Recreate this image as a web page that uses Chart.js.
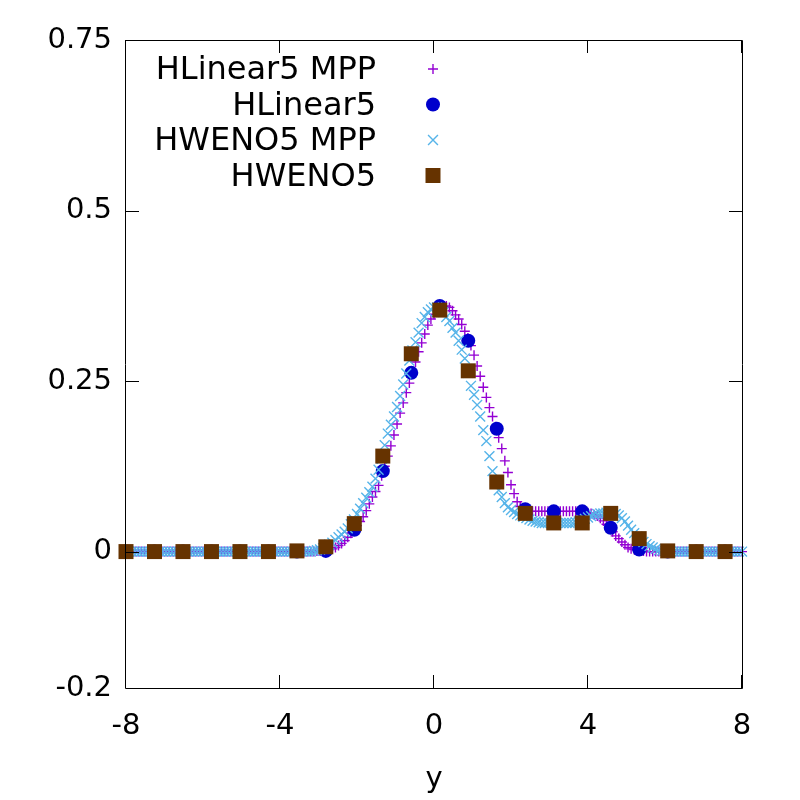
<!DOCTYPE html>
<html>
<head>
<meta charset="utf-8">
<script src="https://cdn.jsdelivr.net/npm/chart.js@4.4.1/dist/chart.umd.min.js"></script>
<style>
  html, body { margin: 0; background: #fff; }
</style>
</head>
<body>
<canvas id="myChart" width="800" height="800"></canvas>
<script>
// coarse runs (one marker every ~0.74 in y)
const xCoarse = [-8, -7.26, -6.52, -5.78, -5.04, -4.3, -3.56, -2.81, -2.07, -1.33, -0.59,
                 0.15, 0.89, 1.63, 2.37, 3.11, 3.85, 4.59, 5.33, 6.07, 6.81, 7.56];
const hlinear5 = [0, 0, 0, 0, 0, 0, 0, 0.001, 0.032, 0.118, 0.262,
                  0.36, 0.309, 0.18, 0.062, 0.059, 0.059, 0.035, 0.003, 0, 0, 0];
const hweno5 = [0, 0, 0, 0, 0, 0, 0.001, 0.007, 0.041, 0.14, 0.29,
                0.354, 0.265, 0.102, 0.056, 0.042, 0.042, 0.056, 0.019, 0.001, 0, 0];

// fine runs (MPP)
const xFine = [
  -8, -7.92, -7.84, -7.76, -7.68, -7.6, -7.52, -7.44, -7.36, -7.28,
  -7.2, -7.12, -7.04, -6.96, -6.88, -6.8, -6.72, -6.64, -6.56, -6.48,
  -6.4, -6.32, -6.24, -6.16, -6.08, -6, -5.92, -5.84, -5.76, -5.68,
  -5.6, -5.52, -5.44, -5.36, -5.28, -5.2, -5.12, -5.04, -4.96, -4.88,
  -4.8, -4.72, -4.64, -4.56, -4.48, -4.4, -4.32, -4.24, -4.16, -4.08,
  -4, -3.92, -3.84, -3.76, -3.68, -3.6, -3.52, -3.44, -3.36, -3.28,
  -3.2, -3.12, -3.04, -2.96, -2.88, -2.8, -2.72, -2.64, -2.56, -2.48,
  -2.4, -2.32, -2.24, -2.16, -2.08, -2, -1.92, -1.84, -1.76, -1.68,
  -1.6, -1.52, -1.44, -1.36, -1.28, -1.2, -1.12, -1.04, -0.96, -0.88,
  -0.8, -0.72, -0.64, -0.56, -0.48, -0.4, -0.32, -0.24, -0.16, -0.08,
  0, 0.08, 0.16, 0.24, 0.32, 0.4, 0.48, 0.56, 0.64, 0.72,
  0.8, 0.88, 0.96, 1.04, 1.12, 1.2, 1.28, 1.36, 1.44, 1.52,
  1.6, 1.68, 1.76, 1.84, 1.92, 2, 2.08, 2.16, 2.24, 2.32,
  2.4, 2.48, 2.56, 2.64, 2.72, 2.8, 2.88, 2.96, 3.04, 3.12,
  3.2, 3.28, 3.36, 3.44, 3.52, 3.6, 3.68, 3.76, 3.84, 3.92,
  4, 4.08, 4.16, 4.24, 4.32, 4.4, 4.48, 4.56, 4.64, 4.72,
  4.8, 4.88, 4.96, 5.04, 5.12, 5.2, 5.28, 5.36, 5.44, 5.52,
  5.6, 5.68, 5.76, 5.84, 5.92, 6, 6.08, 6.16, 6.24, 6.32,
  6.4, 6.48, 6.56, 6.64, 6.72, 6.8, 6.88, 6.96, 7.04, 7.12,
  7.2, 7.28, 7.36, 7.44, 7.52, 7.6, 7.68, 7.76, 7.84, 7.92,
  8
];
const hlinear5Mpp = [
  0, 0, 0, 0, 0, 0, 0, 0, 0, 0,
  0, 0, 0, 0, 0, 0, 0, 0, 0, 0,
  0, 0, 0, 0, 0, 0, 0, 0, 0, 0,
  0, 0, 0, 0, 0, 0, 0, 0, 0, 0,
  0, 0, 0, 0, 0, 0, 0, 0, 0, 0,
  0, 0, 0, 0, 0, 0, 0, 0, 0, 0,
  0, 0, 0.001, 0.001, 0.002, 0.002, 0.003, 0.004, 0.006, 0.009,
  0.012, 0.016, 0.021, 0.027, 0.032, 0.038, 0.044, 0.051, 0.060, 0.070,
  0.080, 0.088, 0.097, 0.111, 0.125, 0.140, 0.155, 0.171, 0.187, 0.203,
  0.218, 0.233, 0.247, 0.262, 0.278, 0.293, 0.306, 0.319, 0.332, 0.341,
  0.348, 0.353, 0.357, 0.359, 0.360, 0.358, 0.353, 0.347, 0.341, 0.333,
  0.323, 0.313, 0.302, 0.288, 0.272, 0.257, 0.241, 0.226, 0.211, 0.198,
  0.183, 0.167, 0.151, 0.133, 0.116, 0.098, 0.085, 0.073, 0.066, 0.062,
  0.060, 0.059, 0.059, 0.059, 0.059, 0.059, 0.059, 0.059, 0.059, 0.059,
  0.059, 0.059, 0.059, 0.059, 0.059, 0.059, 0.059, 0.059, 0.059, 0.058,
  0.057, 0.056, 0.054, 0.052, 0.049, 0.045, 0.040, 0.035, 0.029, 0.023,
  0.019, 0.014, 0.010, 0.006, 0.004, 0.003, 0.002, 0.001, 0.001, 0,
  0, 0, 0, 0, 0, 0, 0, 0, 0, 0,
  0, 0, 0, 0, 0, 0, 0, 0, 0, 0,
  0, 0, 0, 0, 0, 0, 0, 0, 0, 0,
  0
];
const hweno5Mpp = [
  0, 0, 0, 0, 0, 0, 0, 0, 0, 0,
  0, 0, 0, 0, 0, 0, 0, 0, 0, 0,
  0, 0, 0, 0, 0, 0, 0, 0, 0, 0,
  0, 0, 0, 0, 0, 0, 0, 0, 0, 0,
  0, 0, 0, 0, 0, 0, 0, 0, 0, 0,
  0, 0, 0, 0, 0, 0, 0, 0, 0, 0,
  0, 0.001, 0.002, 0.003, 0.005, 0.007, 0.010, 0.013, 0.017, 0.021,
  0.025, 0.029, 0.034, 0.040, 0.047, 0.055, 0.063, 0.071, 0.079, 0.087,
  0.095, 0.107, 0.120, 0.136, 0.156, 0.173, 0.186, 0.198, 0.212, 0.228,
  0.245, 0.261, 0.280, 0.295, 0.307, 0.321, 0.335, 0.344, 0.351, 0.355,
  0.358, 0.358, 0.356, 0.351, 0.344, 0.338, 0.328, 0.321, 0.309, 0.296,
  0.283, 0.262, 0.243, 0.230, 0.215, 0.198, 0.178, 0.162, 0.140, 0.118,
  0.104, 0.090, 0.080, 0.071, 0.065, 0.061, 0.058, 0.055, 0.053, 0.051,
  0.049, 0.047, 0.045, 0.044, 0.043, 0.042, 0.042, 0.042, 0.042, 0.042,
  0.042, 0.042, 0.042, 0.042, 0.042, 0.042, 0.043, 0.044, 0.046, 0.048,
  0.050, 0.052, 0.054, 0.055, 0.056, 0.056, 0.057, 0.057, 0.056, 0.055,
  0.053, 0.049, 0.044, 0.038, 0.032, 0.027, 0.022, 0.018, 0.014, 0.011,
  0.008, 0.006, 0.004, 0.002, 0.001, 0.001, 0, 0, 0, 0,
  0, 0, 0, 0, 0, 0, 0, 0, 0, 0,
  0, 0, 0, 0, 0, 0, 0, 0, 0, 0,
  0
];

const xTicks = [-8, -4, 0, 4, 8];
const yTicks = [-0.2, 0, 0.25, 0.5, 0.75];
const yTickLabels = ['-0.2', '0', '0.25', '0.5', '0.75'];

const FONT = "'DejaVu Sans', sans-serif";

function pts(xs, ys) {
  return xs.map((x, i) => ({x: x, y: ys[i]}));
}

// gnuplot style box with inward ticks on all four sides
const framePlugin = {
  id: 'frame',
  afterDatasetsDraw(chart) {
    const {ctx, chartArea: a, scales} = chart;
    const t = 13;
    ctx.save();
    ctx.strokeStyle = '#000';
    ctx.lineWidth = 1;
    ctx.beginPath();
    ctx.rect(Math.round(a.left) - 0.5, Math.round(a.top) + 0.5,
             Math.round(a.right - a.left) + 1, Math.round(a.bottom - a.top));
    for (const v of xTicks) {
      const px = Math.round(scales.x.getPixelForValue(v)) - 0.5;
      ctx.moveTo(px, a.bottom); ctx.lineTo(px, a.bottom - t);
      ctx.moveTo(px, a.top); ctx.lineTo(px, a.top + t);
    }
    for (const v of yTicks) {
      const py = Math.round(scales.y.getPixelForValue(v)) + 0.5;
      ctx.moveTo(a.left, py); ctx.lineTo(a.left + t, py);
      ctx.moveTo(a.right, py); ctx.lineTo(a.right - t, py);
    }
    ctx.stroke();
    ctx.restore();
  }
};

// key in the top-left corner, text right aligned before the symbol
const keyPlugin = {
  id: 'key',
  afterDraw(chart) {
    const ctx = chart.ctx;
    const order = [3, 2, 1, 0];
    ctx.save();
    ctx.font = '32px ' + FONT;
    ctx.textAlign = 'right';
    ctx.textBaseline = 'middle';
    order.forEach((di, row) => {
      const ds = chart.data.datasets[di];
      const y = 69 + row * 35.5;
      ctx.fillStyle = '#000';
      ctx.fillText(ds.label, 376, y + 2);
      ctx.fillStyle = ds.backgroundColor;
      ctx.strokeStyle = ds.borderColor;
      ctx.lineWidth = ds.borderWidth;
      Chart.helpers.drawPoint(ctx, {
        pointStyle: ds.pointStyle, radius: ds.pointRadius,
        borderWidth: ds.borderWidth, rotation: 0
      }, 433, y);
    });
    ctx.restore();
  }
};

const ctx = document.getElementById('myChart').getContext('2d');
new Chart(ctx, {
  type: 'scatter',
  data: {
    datasets: [
      {
        label: 'HWENO5', data: pts(xCoarse, hweno5), order: 0,
        pointStyle: 'rect', pointRadius: 10.6, borderWidth: 0,
        backgroundColor: '#663300', borderColor: '#663300', clip: false
      },
      {
        label: 'HWENO5 MPP', data: pts(xFine, hweno5Mpp), order: 1,
        pointStyle: 'crossRot', pointRadius: 7, borderWidth: 1.4,
        backgroundColor: '#56b4e9', borderColor: '#56b4e9', clip: false
      },
      {
        label: 'HLinear5', data: pts(xCoarse, hlinear5), order: 2,
        pointStyle: 'circle', pointRadius: 7, borderWidth: 0,
        backgroundColor: '#0000cc', borderColor: '#0000cc', clip: false
      },
      {
        label: 'HLinear5 MPP', data: pts(xFine, hlinear5Mpp), order: 3,
        pointStyle: 'cross', pointRadius: 5, borderWidth: 1.4,
        backgroundColor: '#9400d3', borderColor: '#9400d3', clip: false
      }
    ]
  },
  options: {
    responsive: false,
    animation: false,
    layout: {padding: {top: 40, right: 58, left: 0, bottom: 0}},
    plugins: {
      legend: {display: false},
      tooltip: {enabled: false}
    },
    scales: {
      x: {
        type: 'linear', min: -8, max: 8,
        afterBuildTicks: s => { s.ticks = xTicks.map(v => ({value: v})); },
        afterFit: s => { s.height = 112; },
        grid: {display: false, drawTicks: false},
        border: {display: false},
        ticks: {font: {family: FONT, size: 29}, color: '#000', padding: 21, autoSkip: false, maxRotation: 0},
        title: {display: true, text: 'y', color: '#000', font: {family: FONT, size: 29}, padding: {top: 0, bottom: 3}}
      },
      y: {
        type: 'linear', min: -0.2, max: 0.75,
        afterBuildTicks: s => { s.ticks = yTicks.map(v => ({value: v})); },
        afterFit: s => { s.width = 126; },
        grid: {display: false, drawTicks: false},
        border: {display: false},
        ticks: {
          font: {family: FONT, size: 29}, color: '#000', padding: 14, autoSkip: false,
          callback: v => yTickLabels[yTicks.indexOf(v)]
        }
      }
    }
  },
  plugins: [framePlugin, keyPlugin]
});
</script>
</body>
</html>
